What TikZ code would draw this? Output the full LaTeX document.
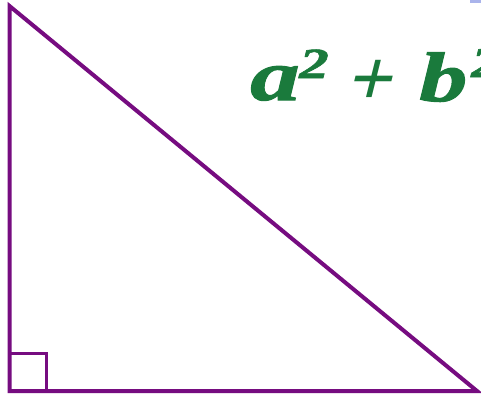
\documentclass[tikz,border=0pt]{standalone}
\usepackage{fontspec}
\setmainfont{Liberation Serif}
\newfontfamily\eqfam{Liberation Serif}[BoldItalicFeatures={FakeBold=1.4,FakeStretch=1.38}]
\definecolor{tri}{RGB}{118,12,128}
\definecolor{eqgreen}{RGB}{26,122,60}
\definecolor{markblue}{RGB}{170,180,235}
\tikzset{
  side/.style={draw=tri, line width=4pt, line join=miter},
  eq/.style={text=eqgreen, inner sep=0pt, anchor=base west}
}
\begin{document}
\begin{tikzpicture}[x=1pt,y=-1pt]
\useasboundingbox[fill=white] (0,0) rectangle (481,397);
\fill[markblue] (470,0) rectangle (481,3);
\coordinate (A) at (9.5,6);
\coordinate (B) at (9.5,391);
\coordinate (C) at (477,391);
\draw[side] (A) -- (B) -- (C) -- cycle;
\draw[side, line width=3.4pt] (9.5,353.5) -- (46.5,353.5) -- (46.5,391);
\node[eq] (eqa) at (250,100) {\fontsize{72}{72}\eqfam\bfseries\itshape a};
\node[eq] (supa) at (299,78) {\fontsize{43}{43}\eqfam\bfseries\itshape 2};
\begin{scope}[xslant=0.25]
\node[eq, transform shape] (plus) at (371,105) {\fontsize{80}{80}\bfseries +};
\end{scope}
\node[eq] (eqb) at (419,101) {\fontsize{70}{70}\eqfam\bfseries\itshape b};
\node[eq] (supb) at (471,77) {\fontsize{43}{43}\eqfam\bfseries\itshape 2};
\end{tikzpicture}
\end{document}
